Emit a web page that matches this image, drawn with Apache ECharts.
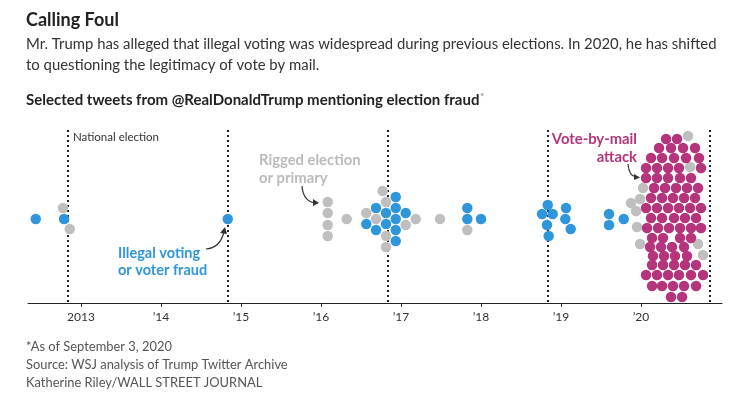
<!DOCTYPE html>
<html>
<head>
<meta charset="utf-8">
<script src="https://cdn.jsdelivr.net/npm/echarts@6/dist/echarts.min.js"></script>
<style>
    html, body { margin: 0; padding: 0; background: #fff; }
    #chart { width: 747px; height: 396px; }
</style>
</head>
<body>
<div id="chart"></div>
<script>
// tick marks on the time axis (year starts)
var tickYears = [2013, 2014, 2015, 2016, 2017, 2018, 2019, 2020];
var tickLabels = ['2013', '\u201914', '\u201915', '\u201916', '\u201917', '\u201918', '\u201919', '\u201920'];
// national elections (dotted lines)
var electionDates = [2012.835, 2014.838, 2016.835, 2018.83, 2020.86];

// one tweet = one dot: [date as year, swarm offset]
var illegalVoting = [
    [2012.434, 0], [2012.788, 0], [2014.834, 0],
    [2016.566, -5], [2016.688, 11], [2016.688, -11], [2016.813, 6], [2016.813, -5],
    [2016.934, 22], [2016.934, 11], [2016.934, 0], [2016.934, -11], [2016.934, -22], [2017.059, 6],
    [2017.829, 11], [2017.829, 0], [2018.0, 0],
    [2018.834, 14], [2018.763, 5], [2018.896, 5], [2018.825, -6], [2018.846, -17],
    [2019.063, 11], [2019.054, 0], [2019.121, -10],
    [2019.6, 5], [2019.6, -6], [2019.784, 0]
];
var riggedElection = [
    [2012.775, 11], [2012.859, -10],
    [2016.084, 17], [2016.084, 6], [2016.084, -6], [2016.084, -17],
    [2016.321, 0], [2016.566, 6], [2016.688, 0], [2016.771, 28], [2016.813, 17],
    [2016.813, -17], [2016.813, -28], [2017.059, -6], [2017.184, 0], [2017.488, 0], [2017.829, -11],
    [2020.588, 83], [2020.613, 52], [2020.025, 31], [2019.875, 16], [2019.988, 20],
    [2019.938, 8], [2019.95, -8], [2019.988, -25], [2020.713, -25], [2020.775, -36]
];
var voteByMail = [
    [2020.313, 80], [2020.45, 80],
    [2020.225, 71], [2020.375, 71], [2020.525, 71], [2020.675, 71],
    [2020.125, 61], [2020.263, 61], [2020.413, 61], [2020.563, 61], [2020.725, 61],
    [2020.063, 51], [2020.2, 51], [2020.338, 51], [2020.475, 51], [2020.75, 51],
    [2020.063, 41], [2020.2, 41], [2020.338, 41], [2020.488, 41], [2020.625, 41],
    [2020.163, 31], [2020.3, 31], [2020.438, 31], [2020.575, 31], [2020.713, 31],
    [2020.125, 21], [2020.263, 21], [2020.4, 21], [2020.538, 21], [2020.675, 21],
    [2020.063, 11], [2020.2, 11], [2020.338, 11], [2020.475, 11], [2020.613, 11], [2020.75, 11],
    [2020.125, 1], [2020.263, 1], [2020.413, 1], [2020.55, 1], [2020.688, 1],
    [2020.075, -9], [2020.213, -9], [2020.35, -9], [2020.488, -9], [2020.625, -9], [2020.75, -9],
    [2020.138, -19], [2020.275, -19], [2020.488, -19], [2020.625, -19],
    [2020.113, -28], [2020.25, -28], [2020.388, -28], [2020.538, -28],
    [2020.15, -37], [2020.288, -37], [2020.425, -37], [2020.575, -37],
    [2020.138, -46], [2020.275, -46], [2020.413, -46], [2020.55, -46], [2020.688, -46],
    [2020.063, -56], [2020.2, -56], [2020.338, -56], [2020.475, -56], [2020.625, -56], [2020.775, -56],
    [2020.138, -67], [2020.263, -67], [2020.4, -67], [2020.538, -67], [2020.688, -67],
    [2020.375, -78], [2020.513, -78]
];

var colors = {
    blue: '#2f96dc',
    gray: '#bfbfbf',
    magenta: '#b6347b',
    ink: '#222'
};
var fontFamily = 'Lato, "Noto Sans", sans-serif';

var chart = echarts.init(document.getElementById('chart'));

function text(x, y, str, style) {
    return {
        type: 'text',
        x: x,
        y: y,
        silent: true,
        style: Object.assign({
            text: str,
            fontFamily: fontFamily,
            fontSize: 14,
            fill: '#333',
            verticalAlign: 'middle'
        }, style)
    };
}

// curved pointer with a small arrow head
function arrow(p0, cp, p1, head) {
    return [{
        type: 'bezierCurve',
        silent: true,
        shape: { x1: p0[0], y1: p0[1], cpx1: cp[0], cpy1: cp[1], x2: p1[0], y2: p1[1] },
        style: { stroke: '#333', lineWidth: 1.2, fill: null }
    }, {
        type: 'polygon',
        silent: true,
        shape: { points: head },
        style: { fill: '#333' }
    }];
}

function swarm(name, data, color) {
    return {
        name: name,
        type: 'scatter',
        data: data,
        symbolSize: 10.5,
        itemStyle: { color: color, opacity: 1 },
        silent: true,
        z: 5
    };
}

var option = {
    animation: false,
    grid: { left: 28, right: 25, top: 120, bottom: 93 },
    xAxis: {
        type: 'value',
        min: 2012.3375,
        max: 2021.0125,
        splitLine: { show: false },
        axisLine: { onZero: false, lineStyle: { color: colors.ink, width: 1 } },
        axisTick: {
            customValues: tickYears,
            length: 4,
            lineStyle: { color: '#333' }
        },
        axisLabel: {
            customValues: tickYears,
            formatter: function (v) {
                return tickLabels[tickYears.indexOf(Math.round(v))];
            },
            color: '#333',
            fontSize: 12,
            fontFamily: fontFamily,
            margin: 8
        }
    },
    yAxis: {
        type: 'value',
        min: -84,
        max: 99,
        show: false
    },
    series: [
        {
            name: 'elections',
            type: 'scatter',
            data: [],
            silent: true,
            z: 1,
            markLine: {
                silent: true,
                z: 1,
                symbol: 'none',
                label: { show: false },
                lineStyle: { color: colors.ink, width: 2, type: [2, 3] },
                data: electionDates.map(function (d) {
                    return [{ coord: [d, 89] }, { coord: [d, -84] }];
                })
            }
        },
        swarm('Illegal voting or voter fraud', illegalVoting, colors.blue),
        swarm('Rigged election or primary', riggedElection, colors.gray),
        swarm('Vote-by-mail attack', voteByMail, colors.magenta)
    ],
    graphic: [
        text(26, 20, 'Calling Foul', { fontSize: 18, fontWeight: 'bold', fill: '#222' }),
        text(26, 44, 'Mr. Trump has alleged that illegal voting was widespread during previous elections. In 2020, he has shifted', { fontSize: 14.9, fill: '#333' }),
        text(26, 65, 'to questioning the legitimacy of vote by mail.', { fontSize: 14.9, fill: '#333' }),
        text(26, 100, 'Selected tweets from @RealDonaldTrump mentioning election fraud', { fontSize: 15, fontWeight: 'bold', fill: '#222' }),
        text(480, 97, '*', { fontSize: 10, fill: '#777' }),
        text(73, 137, 'National election', { fontSize: 11.5, fill: '#333' }),
        text(118, 253, 'Illegal voting', { fontSize: 14.5, fontWeight: 'bold', fill: colors.blue }),
        text(118, 270, 'or voter fraud', { fontSize: 14.5, fontWeight: 'bold', fill: colors.blue }),
        text(259, 160, 'Rigged election', { fontSize: 14.8, fontWeight: 'bold', fill: '#bbbbbb' }),
        text(259, 178, 'or primary', { fontSize: 14.8, fontWeight: 'bold', fill: '#bbbbbb' }),
        text(637, 139, 'Vote-by-mail', { fontSize: 14.8, fontWeight: 'bold', fill: colors.magenta, align: 'right' }),
        text(637, 157, 'attack', { fontSize: 14.8, fontWeight: 'bold', fill: colors.magenta, align: 'right' }),
        text(26, 347, '*As of September 3, 2020', { fontSize: 12.9, fill: '#555' }),
        text(26, 365, 'Source: WSJ analysis of Trump Twitter Archive', { fontSize: 12.9, fill: '#555' }),
        text(26, 383, 'Katherine Riley/WALL STREET JOURNAL', { fontSize: 12.9, fill: '#555' })
    ]
        .concat(arrow([206, 249], [220, 248], [224, 232], [[220, 233], [225, 227], [227, 234]]))
        .concat(arrow([302, 186], [303, 201], [315, 203], [[313, 199], [319, 203], [313, 206]]))
        .concat(arrow([628, 164], [629, 176], [636, 177], [[634, 174], [640, 177.5], [634, 180]]))
};

chart.setOption(option);
</script>
</body>
</html>
